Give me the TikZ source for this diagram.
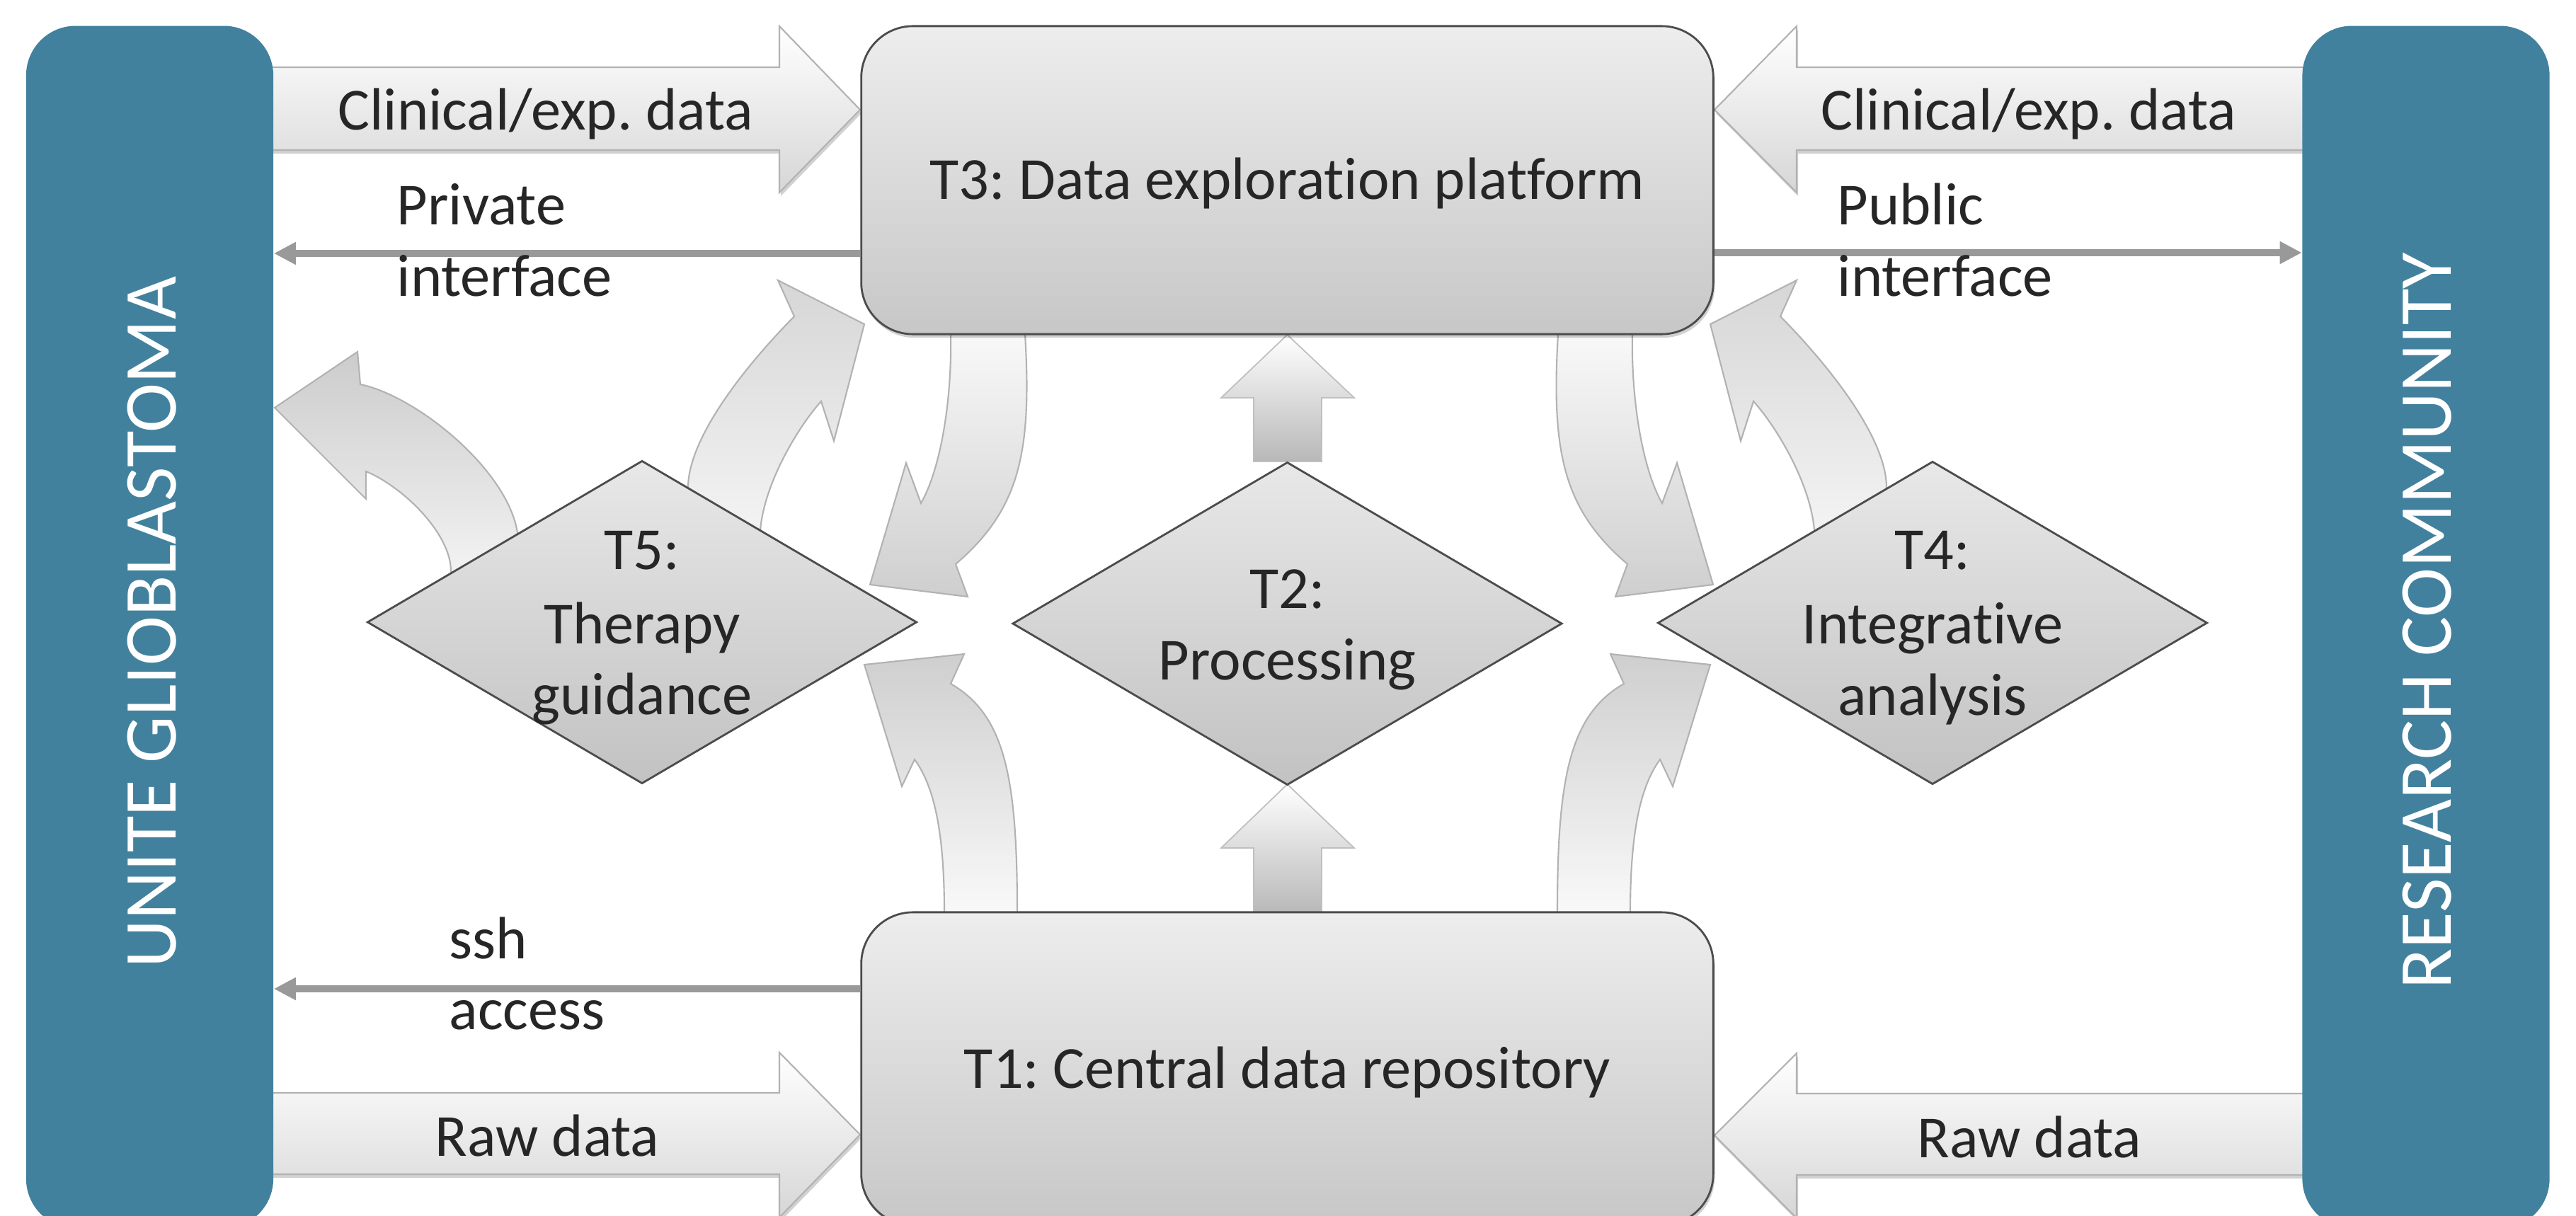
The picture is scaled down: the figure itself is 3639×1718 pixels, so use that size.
\documentclass[tikz,border=0pt]{standalone}
\usepackage{fontspec}
\setmainfont{Carlito}[Ligatures={NoCommon}]
\usetikzlibrary{shapes.geometric,arrows.meta,shadows}
\definecolor{barblue}{RGB}{66,129,158}
\definecolor{txt}{RGB}{38,38,38}
\definecolor{ifgray}{RGB}{153,153,153}
\frenchspacing
\begin{document}
\begin{tikzpicture}[x=0.01cm,y=-0.01cm,
  lbl/.style={font=\fontsize{24}{29}\selectfont, text=txt, inner sep=0pt},
  bar/.style={draw=none, fill=barblue, rounded corners=0.7cm, minimum width=3.49cm, minimum height=16.98cm, inner sep=0pt},
  bartext/.style={font=\fontsize{30}{36}\selectfont, text=white, inner sep=0pt, text height=19.3pt, text depth=0pt},
  softshadow/.style={drop shadow={shadow xshift=0.02cm, shadow yshift=-0.05cm, opacity=0.18, fill=black}},
  taskbox/.style={draw=black!70, line width=0.8pt, rounded corners=0.73cm, top color=black!7, bottom color=black!22, minimum width=12.03cm, inner sep=0pt, font=\fontsize{24}{29}\selectfont, text=txt, text height=15.5pt, text depth=0pt, softshadow},
  taskdia/.style={diamond, draw=black!70, line width=0.8pt, top color=black!9, bottom color=black!24, minimum width=7.76cm, minimum height=4.56cm, inner sep=0pt},
  bigarrow/.style={draw=black!30, line width=0.6pt, top color=white, bottom color=black!16, softshadow},
  curvarrow/.style={draw=black!30, line width=0.6pt},
  uparrow/.style={draw=black!25, line width=0.5pt, top color=white, bottom color=black!28},
  iface/.style={draw=ifgray, line width=0.1cm, -{Triangle[length=0.31cm,width=0.3cm]}},
]
\useasboundingbox (0,0) rectangle (3639,1718);
\clip (0,0) rectangle (3639,1718);

% ---------- straight data arrows ----------
\path[bigarrow] (380,95) -- (1101,95) -- (1101,37) -- (1215,155) -- (1101,272) -- (1101,212) -- (380,212) -- cycle;
\path[bigarrow] (380,1544) -- (1101,1544) -- (1101,1487) -- (1215,1603) -- (1101,1720) -- (1101,1659) -- (380,1659) -- cycle;
\path[bigarrow] (3258,95) -- (2538,95) -- (2538,37) -- (2422,155) -- (2538,272) -- (2538,212) -- (3258,212) -- cycle;
\path[bigarrow] (3258,1545) -- (2538,1545) -- (2538,1488) -- (2422,1604) -- (2538,1721) -- (2538,1660) -- (3258,1660) -- cycle;

% ---------- up arrows T1->T2->T3 ----------
\path[uparrow] (1771,652) -- (1771,562) -- (1725,562) -- (1818.5,473) -- (1913,562) -- (1867,562) -- (1867,652) -- cycle;
\path[uparrow] (1771,1292) -- (1771,1198) -- (1725,1198) -- (1818.5,1108) -- (1913,1198) -- (1867,1198) -- (1867,1292) -- cycle;

% ---------- curved arrows (left half) ----------
% A: T5 -> left bar
\path[curvarrow, top color=black!20, bottom color=black!4]
  (731,753) .. controls (718,665) and (590,560) .. (509,543) -- (505,497) -- (388,576) -- (517,705) -- (517,666)
  .. controls (570,688) and (638,755) .. (637,808) -- (660,830) -- (745,770) -- cycle;
% B: T5 -> T3
\path[curvarrow, top color=black!16, bottom color=black!4]
  (972,689) .. controls (972,620) and (1050,520) .. (1122,447) -- (1099,396) -- (1221,458) -- (1178,623) -- (1160,567)
  .. controls (1130,600) and (1080,680) .. (1074,749) -- (1050,770) -- (985,720) -- cycle;
% C: T3 -> T5
\path[curvarrow, top color=black!2, bottom color=black!19]
  (1343,460) -- (1448,460) -- (1448,472) .. controls (1458,640) and (1440,720) .. (1350,797) -- (1367,843) -- (1229,826) -- (1280,654) -- (1301,711)
  .. controls (1330,660) and (1345,560) .. (1343,472) -- cycle;
% D: T1 -> T5
\path[curvarrow, top color=black!19, bottom color=black!2]
  (1336,1300) -- (1437,1300) -- (1437,1288) .. controls (1437,1100) and (1420,1010) .. (1343,966) -- (1362,924) -- (1221,939) -- (1274,1111) -- (1292,1073)
  .. controls (1315,1105) and (1334,1160) .. (1334,1288) -- cycle;

% ---------- curved arrows (right half, mirrored) ----------
\begin{scope}[shift={(3637,0)}, xscale=-1]
% F: T4 -> T3
\path[curvarrow, top color=black!16, bottom color=black!4]
  (972,689) .. controls (972,620) and (1050,520) .. (1122,447) -- (1099,396) -- (1221,458) -- (1178,623) -- (1160,567)
  .. controls (1130,600) and (1080,680) .. (1074,749) -- (1050,770) -- (985,720) -- cycle;
% G: T1 -> T4
\path[curvarrow, top color=black!19, bottom color=black!2]
  (1336,1300) -- (1437,1300) -- (1437,1288) .. controls (1437,1100) and (1420,1010) .. (1343,966) -- (1362,924) -- (1221,939) -- (1274,1111) -- (1292,1073)
  .. controls (1315,1105) and (1334,1160) .. (1334,1288) -- cycle;
\end{scope}
\begin{scope}[shift={(3649,0)}, xscale=-1]
% E: T3 -> T4
\path[curvarrow, top color=black!2, bottom color=black!19]
  (1343,460) -- (1448,460) -- (1448,472) .. controls (1458,640) and (1440,720) .. (1350,797) -- (1367,843) -- (1229,826) -- (1280,654) -- (1301,711)
  .. controls (1330,660) and (1345,560) .. (1343,472) -- cycle;
\end{scope}

% ---------- side bars ----------
\node[bar] (LB) at (211.5,886) {};
\node[bartext, rotate=90] (LBt) at (214.5,879) {UNITE GLIOBLASTOMA};
\node[bar] (RB) at (3427,886) {};
\node[bartext, rotate=90] (RBt) at (3429,877) {RESEARCH COMMUNITY};

% ---------- task boxes ----------
\node[taskbox, minimum height=4.35cm] (T3) at (1818.5,254.5) {T3: Data exploration platform};
\node[taskbox, minimum height=4.42cm] (T1) at (1818.5,1510) {T1: Central data repository};

% ---------- diamonds ----------
\node[taskdia] (T5) at (907,879) {};
\node[taskdia] (T2) at (1818.5,881) {};
\node[taskdia] (T4) at (2730,880) {};

\node[lbl, anchor=base] (T5a) at (907,804) {T5:};
\node[lbl, anchor=base] (T5b) at (907,909) {Therapy};
\node[lbl, anchor=base] (T5c) at (907,1009) {guidance};
\node[lbl, anchor=base] (T2a) at (1818.5,859) {T2:};
\node[lbl, anchor=base] (T2b) at (1818.5,960) {Processing};
\node[lbl, anchor=base] (T4a) at (2730,804) {T4:};
\node[lbl, anchor=base] (T4b) at (2730,909) {Integrative};
\node[lbl, anchor=base] (T4c) at (2730,1010) {analysis};

% ---------- interface connectors ----------
\coordinate (privY) at (0,358);
\coordinate (pubY) at (0,357);
\coordinate (sshY) at (0,1397);
\draw[iface] (T3.west |- privY) -- (LB.east |- privY);
\draw[iface] (T3.east |- pubY) -- (RB.west |- pubY);
\draw[iface] (T1.west |- sshY) -- (LB.east |- sshY);

% ---------- labels ----------
\node[lbl, anchor=base] (clinL) at (771,183) {Clinical/exp. data};
\node[lbl, anchor=base] (clinR) at (2866,183) {Clinical/exp. data};
\node[lbl, anchor=base] (rawL) at (773,1633) {Raw data};
\node[lbl, anchor=base] (rawR) at (2867,1635) {Raw data};
\node[lbl, anchor=base west] (privA) at (560,317) {Private};
\node[lbl, anchor=base west] (privB) at (560,418) {interface};
\node[lbl, anchor=base west] (pubA) at (2595,317) {Public};
\node[lbl, anchor=base west] (pubB) at (2595,418) {interface};
\node[lbl, anchor=base west] (sshA) at (634,1354) {ssh};
\node[lbl, anchor=base west] (sshB) at (634,1454) {access};
\end{tikzpicture}
\end{document}
